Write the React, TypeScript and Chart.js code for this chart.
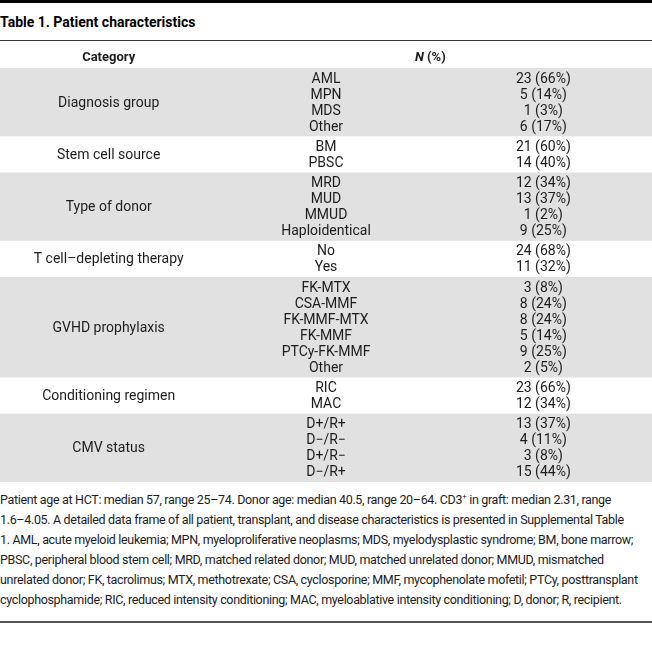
import React, { useEffect, useLayoutEffect, useRef } from "react";
import { Chart, registerables } from "chart.js";

Chart.register(...registerables);

const title = "Table 1. Patient characteristics";
const headerCategory = "Category";
const headerValue = "N";
const headerValueSuffix = " (%)";

const categories = [
  "Diagnosis group",
  "Stem cell source",
  "Type of donor",
  "T cell–depleting therapy",
  "GVHD prophylaxis",
  "Conditioning regimen",
  "CMV status",
];

const subcategories = [
  ["AML", "MPN", "MDS", "Other"],
  ["BM", "PBSC"],
  ["MRD", "MUD", "MMUD", "Haploidentical"],
  ["No", "Yes"],
  ["FK-MTX", "CSA-MMF", "FK-MMF-MTX", "FK-MMF", "PTCy-FK-MMF", "Other"],
  ["RIC", "MAC"],
  ["D+/R+", "D−/R−", "D+/R−", "D−/R+"],
];

const counts = [
  [23, 5, 1, 6],
  [21, 14],
  [12, 13, 1, 9],
  [24, 11],
  [3, 8, 8, 5, 9, 2],
  [23, 12],
  [13, 4, 3, 15],
];

const percents = [
  [66, 14, 3, 17],
  [60, 40],
  [34, 37, 2, 25],
  [68, 32],
  [8, 24, 24, 14, 25, 5],
  [66, 34],
  [37, 11, 8, 44],
];

const footnoteLines = [
  ["Patient age at HCT: median 57, range 25–74. Donor age: median 40.5, range 20–64. CD3", "+", " in graft: median 2.31, range"],
  ["1.6–4.05. A detailed data frame of all patient, transplant, and disease characteristics is presented in Supplemental Table"],
  ["1. AML, acute myeloid leukemia; MPN, myeloproliferative neoplasms; MDS, myelodysplastic syndrome; BM, bone marrow;"],
  ["PBSC, peripheral blood stem cell; MRD, matched related donor; MUD, matched unrelated donor; MMUD, mismatched"],
  ["unrelated donor; FK, tacrolimus; MTX, methotrexate; CSA, cyclosporine; MMF, mycophenolate mofetil; PTCy, posttransplant"],
  ["cyclophosphamide; RIC, reduced intensity conditioning; MAC, myeloablative intensity conditioning; D, donor; R, recipient."],
];

const GAP = 0.25; // extra space (in row units) around each group
const FONT = "Roboto, 'Noto Sans', sans-serif";
const TEXT_COLOR = "#1c1c1c";
const BAND_COLOR = "#e1e1e1";

function buildLayout() {
  let cursor = 0;
  const bands: { top: number; bottom: number; shaded: boolean }[] = [];
  const rows: { y: number; sub: string; value: string }[] = [];
  const groups: { y: number; label: string }[] = [];
  categories.forEach((cat, g) => {
    const n = subcategories[g].length;
    const top = cursor;
    const bottom = top + n + GAP;
    bands.push({ top, bottom, shaded: g % 2 === 0 });
    subcategories[g].forEach((s, i) => {
      rows.push({
        y: top + GAP / 2 + i + 0.5,
        sub: s,
        value: `${counts[g][i]} (${percents[g][i]}%)`,
      });
    });
    groups.push({ y: (top + bottom) / 2, label: cat });
    cursor = bottom;
  });
  return { bands, rows, groups, total: cursor };
}

const tablePlugin = {
  id: "tablePlugin",
  beforeDatasetsDraw(chart: any) {
    const { ctx } = chart;
    const y = chart.scales.y;
    const bands = chart.options.plugins.tablePlugin.bands;
    ctx.save();
    bands.forEach((b: any) => {
      if (!b.shaded) return;
      const top = y.getPixelForValue(b.top);
      const bottom = y.getPixelForValue(b.bottom);
      ctx.fillStyle = BAND_COLOR;
      ctx.fillRect(0, top, chart.width, bottom - top);
    });
    ctx.restore();
  },
  afterDatasetsDraw(chart: any) {
    const { ctx, chartArea } = chart;
    const x = chart.scales.x;
    ctx.save();
    ctx.fillStyle = TEXT_COLOR;
    ctx.textAlign = "center";
    ctx.textBaseline = "middle";
    ctx.font = `14px ${FONT}`;
    chart.data.datasets.forEach((ds: any, i: number) => {
      const meta = chart.getDatasetMeta(i);
      meta.data.forEach((el: any, j: number) => {
        ctx.fillText(ds.texts[j], el.x, el.y + 1);
      });
    });
    // header row
    const hy = chartArea.top - 10;
    ctx.font = `bold 13px ${FONT}`;
    ctx.fillText(headerCategory, x.getPixelForValue(0.5), hy);
    ctx.font = `italic bold 13px ${FONT}`;
    const w1 = ctx.measureText(headerValue).width;
    ctx.font = `bold 13px ${FONT}`;
    const w2 = ctx.measureText(headerValueSuffix).width;
    const cx = x.getPixelForValue(1.98);
    const left = cx - (w1 + w2) / 2;
    ctx.textAlign = "left";
    ctx.font = `italic bold 13px ${FONT}`;
    ctx.fillText(headerValue, left, hy);
    ctx.font = `bold 13px ${FONT}`;
    ctx.fillText(headerValueSuffix, left + w1, hy);
    ctx.restore();
  },
};

function TableChart() {
  const ref = useRef<HTMLCanvasElement | null>(null);
  useEffect(() => {
    if (!ref.current) return;
    const { bands, rows, groups, total } = buildLayout();
    const chart = new Chart(ref.current, {
      type: "scatter",
      data: {
        datasets: [
          {
            label: "Category",
            data: groups.map((g) => ({ x: 0.5, y: g.y })),
            texts: groups.map((g) => g.label),
            pointRadius: 0,
          } as any,
          {
            label: "Subcategory",
            data: rows.map((r) => ({ x: 1.5, y: r.y })),
            texts: rows.map((r) => r.sub),
            pointRadius: 0,
          } as any,
          {
            label: "N (%)",
            data: rows.map((r) => ({ x: 2.5, y: r.y })),
            texts: rows.map((r) => r.value),
            pointRadius: 0,
          } as any,
        ],
      },
      options: {
        animation: false,
        responsive: true,
        maintainAspectRatio: false,
        events: [],
        layout: { padding: { top: 27, left: 0, right: 0, bottom: 0 } },
        scales: {
          x: { type: "linear", min: 0, max: 3, display: false },
          y: { type: "linear", min: 0, max: total, reverse: true, display: false },
        },
        plugins: {
          legend: { display: false },
          tooltip: { enabled: false },
          tablePlugin: { bands },
        } as any,
      },
      plugins: [tablePlugin],
    });
    return () => chart.destroy();
  }, []);
  return (
    <div style={{ position: "relative", width: 652, height: 441 }}>
      <canvas ref={ref} />
    </div>
  );
}

export default function App() {
  useLayoutEffect(() => {
    document.body.style.margin = "0";
  }, []);
  return (
    <div style={{ width: 652, fontFamily: FONT, color: TEXT_COLOR, background: "#fff" }}>
      <style>{`body{margin:0}`}</style>
      <div style={{ height: 3, background: "#000" }} />
      <div
        style={{
          height: 37,
          lineHeight: "39px",
          fontWeight: 700,
          fontSize: 14,
          color: "#000",
          whiteSpace: "nowrap",
          overflow: "hidden",
        }}
      >
        {title}
      </div>
      <div style={{ height: 1, background: "#3a3a3a" }} />
      <TableChart />
      <div style={{ marginTop: 8, fontSize: 12.5, lineHeight: "20px", letterSpacing: "-0.33px" }}>
        {footnoteLines.map((parts, i) => (
          <div key={i} style={{ whiteSpace: "nowrap" }}>
            {parts.length === 3 ? (
              <>
                {parts[0]}
                <sup style={{ fontSize: 8, lineHeight: 0, verticalAlign: "5px" }}>{parts[1]}</sup>
                {parts[2]}
              </>
            ) : (
              parts[0]
            )}
          </div>
        ))}
      </div>
      <div style={{ height: 11 }} />
      <div style={{ height: 2, background: "#555" }} />
    </div>
  );
}
